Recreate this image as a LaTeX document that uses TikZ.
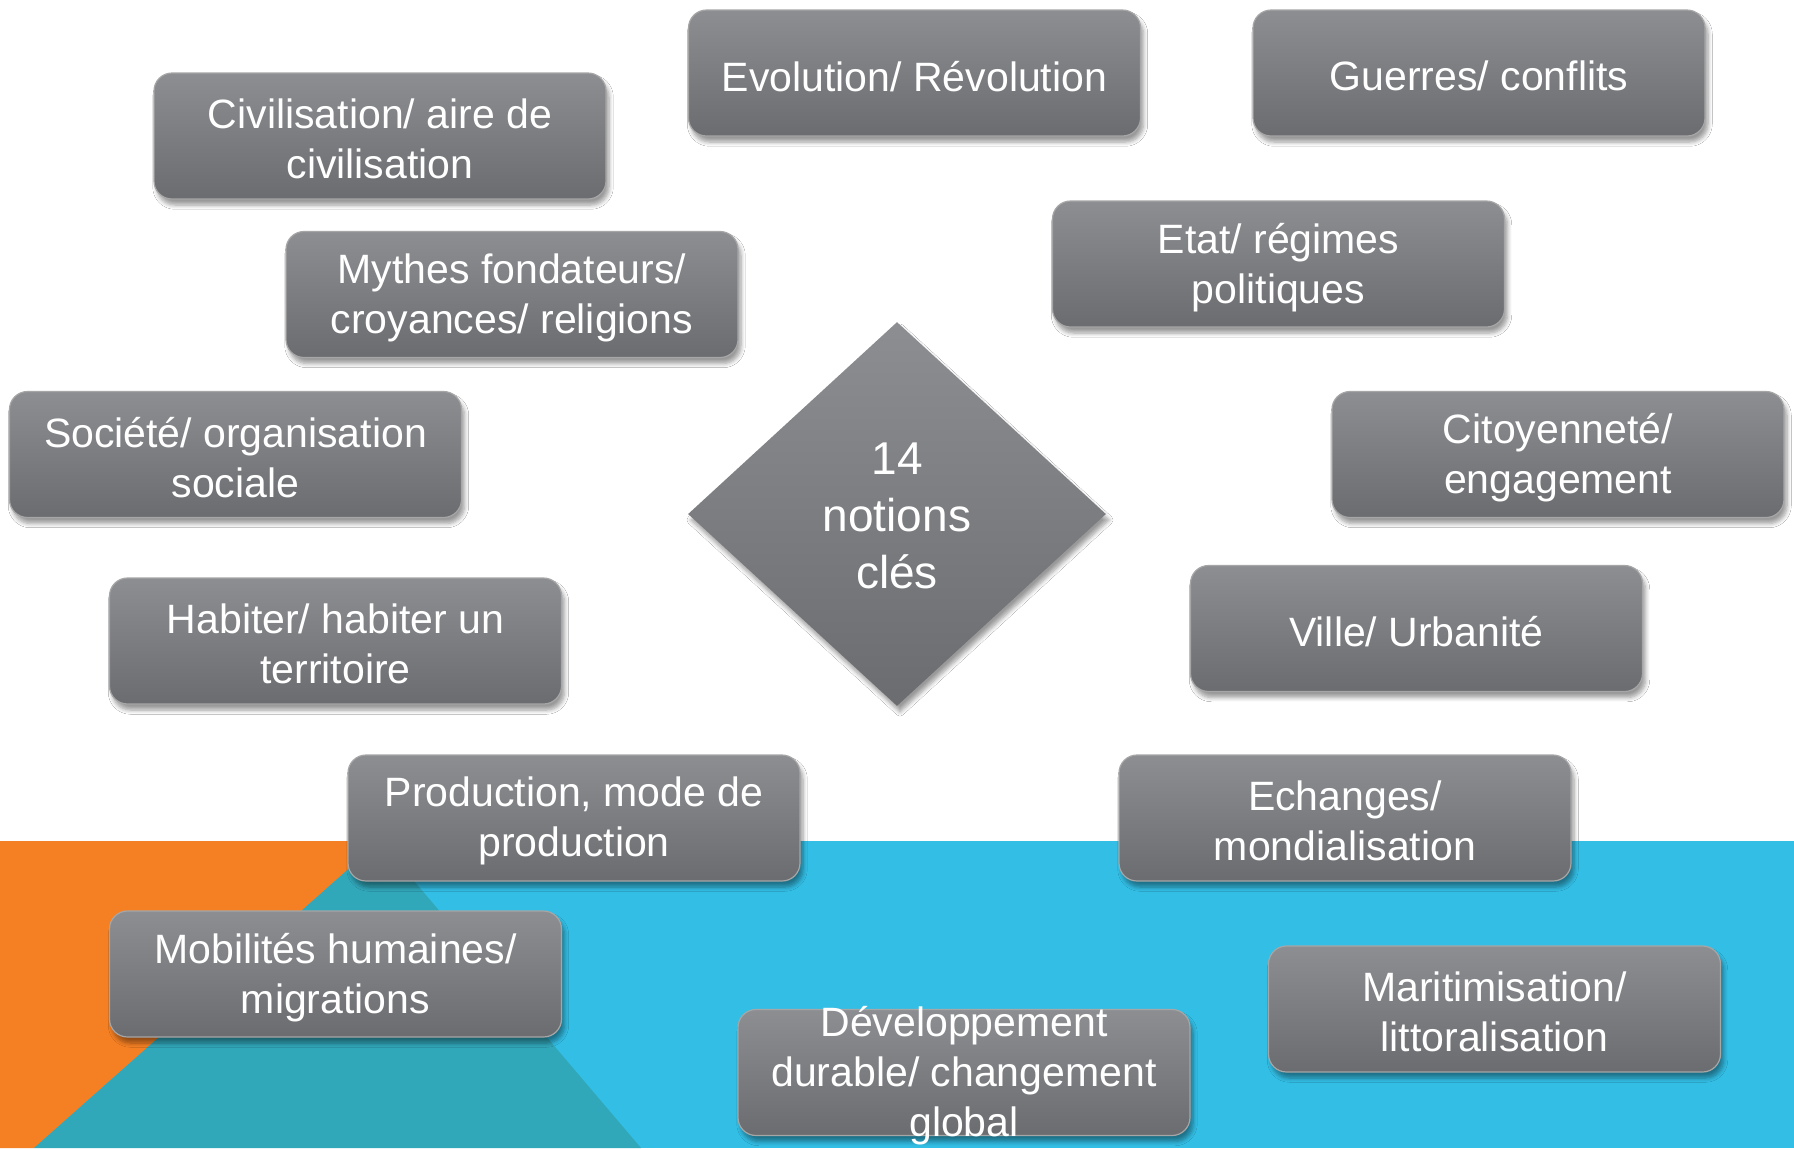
\documentclass[tikz,border=0pt]{standalone}
\usepackage{fontspec}
\setmainfont{Liberation Sans}
\usetikzlibrary{shapes.geometric,shadows.blur}
\definecolor{orng}{HTML}{F58024}
\definecolor{skyb}{HTML}{33BEE5}
\definecolor{tealb}{HTML}{31A7BA}
\definecolor{gtop}{HTML}{8C8E92}
\definecolor{gbot}{HTML}{6B6C70}
\begin{document}
\begin{tikzpicture}[x=0.5pt,y=-0.5pt,
  notiontext/.style={text=white, font=\fontsize{20.5}{25}\selectfont, align=center, inner sep=0pt, yshift=-1.6pt},
  notion/.style={rounded corners=9pt, minimum width=226pt, minimum height=63pt,
    top color=gtop, bottom color=gbot, draw=gray!70, line width=0.6pt,
    inner sep=0pt, label={[notiontext]center:{#1}},
    blur shadow={shadow xshift=1.5pt, shadow yshift=-3pt, shadow blur steps=6, shadow opacity=40}},
  coretext/.style={text=white, align=center, inner sep=0pt, font=\fontsize{23}{28.5}\selectfont, yshift=-1pt},
  core/.style={diamond, minimum width=209pt, minimum height=192pt, inner sep=0pt,
    top color=gtop, bottom color=gbot, label={[coretext]center:{#1}},
    blur shadow={shadow xshift=1.5pt, shadow yshift=-3pt, shadow blur steps=6, shadow opacity=40}}]
\useasboundingbox (0,0) rectangle (1794,1148);
\fill[white] (0,0) rectangle (1794,1148);
\fill[skyb] (0,841) rectangle (1794,1148);
\fill[orng] (0,841) -- (380,841) -- (34,1148) -- (0,1148) -- cycle;
\fill[tealb] (380,841) -- (641,1148) -- (34,1148) -- cycle;

\node[notion={Civilisation/ aire de\\civilisation}] (civ) at (380,136) {};
\node[notion={Evolution/ Révolution}] (evo) at (914.5,73) {};
\node[notion={Guerres/ conflits}] (gue) at (1479,73) {};
\node[notion={Mythes fondateurs/\\croyances/ religions}] (myt) at (512,294.5) {};
\node[notion={Etat/ régimes\\politiques}] (eta) at (1278.5,264) {};
\node[notion={Société/ organisation\\sociale}] (soc) at (235.5,454.5) {};
\node[notion={Citoyenneté/\\engagement}] (cit) at (1558,454.5) {};
\node[notion={Habiter/ habiter un\\territoire}] (hab) at (335.5,641) {};
\node[notion={Ville/ Urbanité}] (vil) at (1416.5,628.5) {};
\node[notion={Production, mode de\\production}] (pro) at (574,818) {};
\node[notion={Echanges/\\mondialisation}] (ech) at (1345,818) {};
\node[notion={Mobilités humaines/\\migrations}] (mob) at (335.5,974) {};
\node[notion={Maritimisation/\\littoralisation}] (mar) at (1494.5,1009) {};
\node[notion={Développement\\durable/ changement\\global}] (dev) at (964,1072.5) {};
\node[core={14\\notions\\clés}] (cle) at (897,514) {};
\end{tikzpicture}
\end{document}
